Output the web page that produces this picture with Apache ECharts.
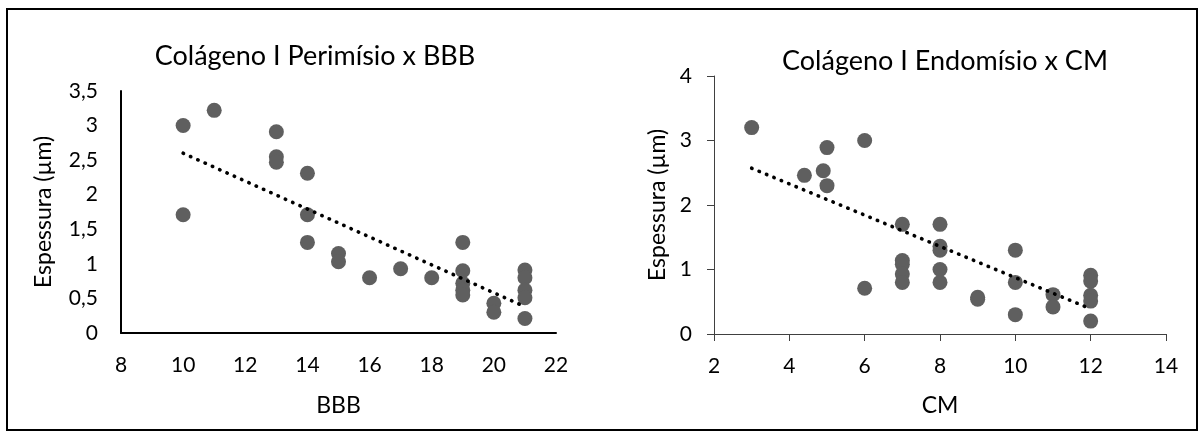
<!DOCTYPE html>
<html>
<head>
<meta charset="utf-8">
<script src="https://cdn.jsdelivr.net/npm/echarts@6/dist/echarts.min.js"></script>
<style>
html,body{margin:0;padding:0;background:#fff;}
#c{width:1204px;height:439px;}
</style>
</head>
<body>
<div id="c"></div>
<script>
// Left chart: Colágeno I Perimísio x BBB
const leftTitle = 'Colágeno I Perimísio x BBB';
const leftXName = 'BBB';
const leftBBB = [10, 11, 13, 13, 13, 14, 10, 14, 14, 15, 15, 16, 17, 18, 19, 19, 19, 19, 19, 20, 20, 21, 21, 21, 21, 21];
const leftThick = [3.00, 3.22, 2.91, 2.55, 2.47, 2.31, 1.71, 1.71, 1.31, 1.15, 1.03, 0.80, 0.93, 0.80, 1.31, 0.90, 0.72, 0.62, 0.55, 0.43, 0.30, 0.91, 0.80, 0.62, 0.51, 0.21];
const leftTrendX = [10, 21];
const leftTrendY = [2.60, 0.38];
const leftXTicks = [8, 10, 12, 14, 16, 18, 20, 22];
const leftYTicks = ['0', '0,5', '1', '1,5', '2', '2,5', '3', '3,5'];

// Right chart: Colágeno I Endomísio x CM
const rightTitle = 'Colágeno I Endomísio x CM';
const rightXName = 'CM';
const rightCM = [3, 5, 6, 4.4, 4.9, 5, 6, 7, 7, 7, 7, 7, 8, 8, 8, 8, 8, 9, 9, 10, 10, 10, 11, 11, 12, 12, 12, 12, 12];
const rightThick = [3.20, 2.89, 3.00, 2.46, 2.53, 2.30, 0.71, 1.70, 1.14, 1.08, 0.93, 0.80, 1.70, 1.36, 1.30, 1.00, 0.80, 0.57, 0.54, 1.30, 0.80, 0.30, 0.61, 0.42, 0.91, 0.82, 0.60, 0.51, 0.20];
const rightTrendX = [3, 12];
const rightTrendY = [2.57, 0.39];
const rightXTicks = [2, 4, 6, 8, 10, 12, 14];
const rightYTicks = [0, 1, 2, 3, 4];

const yName = 'Espessura (µm)';
const FONT = 'Lato';

const pairs = (xs, ys) => xs.map((x, i) => [x, ys[i]]);
const fmt = v => String(v).replace('.', ',');

const chart = echarts.init(document.getElementById('c'), null, {renderer: 'canvas'});

const axisText = {color: '#000', fontFamily: FONT, fontSize: 21};
const nameText = {color: '#000', fontFamily: FONT, fontSize: 23};

chart.setOption({
  animation: false,
  backgroundColor: '#fff',
  title: [
    {text: leftTitle, left: 310, top: 38, textAlign: 'center',
     textStyle: {color: '#000', fontFamily: FONT, fontSize: 27, fontWeight: 'normal'}},
    {text: rightTitle, left: 940, top: 43, textAlign: 'center',
     textStyle: {color: '#000', fontFamily: FONT, fontSize: 27, fontWeight: 'normal'}}
  ],
  graphic: [{
    type: 'rect', shape: {x: 7, y: 9, width: 1190, height: 421},
    style: {fill: 'none', stroke: '#000', lineWidth: 2}, silent: true
  }],
  grid: [
    {left: 121, top: 91, width: 435, height: 242},
    {left: 714, top: 76, width: 452, height: 258}
  ],
  xAxis: [
    {gridIndex: 0, type: 'value', min: leftXTicks[0], max: leftXTicks[leftXTicks.length - 1], interval: 2,
     name: leftXName, nameLocation: 'middle', nameGap: 61, nameTextStyle: nameText,
     axisLine: {show: true, lineStyle: {color: '#000', width: 2}},
     axisTick: {show: false}, splitLine: {show: false},
     axisLabel: Object.assign({margin: 22, formatter: fmt}, axisText)},
    {gridIndex: 1, type: 'value', min: rightXTicks[0], max: rightXTicks[rightXTicks.length - 1], interval: 2,
     name: rightXName, nameLocation: 'middle', nameGap: 60, nameTextStyle: nameText,
     axisLine: {show: true, lineStyle: {color: '#404040', width: 1}},
     axisTick: {show: true, inside: false, length: 7, lineStyle: {color: '#404040', width: 1}},
     splitLine: {show: false},
     axisLabel: Object.assign({margin: 22, formatter: fmt}, axisText)}
  ],
  yAxis: [
    {gridIndex: 0, type: 'value', min: 0, max: 3.5, interval: 0.5,
     name: yName, nameLocation: 'middle', nameGap: 66, nameRotate: 90, nameTextStyle: nameText,
     axisLine: {show: true, lineStyle: {color: '#000', width: 2}},
     axisTick: {show: false}, splitLine: {show: false},
     axisLabel: Object.assign({margin: 23, formatter: (v) => leftYTicks[Math.round(v / 0.5)]}, axisText)},
    {gridIndex: 1, type: 'value', min: rightYTicks[0], max: rightYTicks[rightYTicks.length - 1], interval: 1,
     name: yName, nameLocation: 'middle', nameGap: 45, nameRotate: 90, nameTextStyle: nameText,
     axisLine: {show: true, lineStyle: {color: '#404040', width: 1}},
     axisTick: {show: true, inside: false, length: 7, lineStyle: {color: '#404040', width: 1}},
     splitLine: {show: false},
     axisLabel: Object.assign({margin: 22, formatter: fmt}, axisText)}
  ],
  series: [
    {type: 'scatter', xAxisIndex: 0, yAxisIndex: 0, data: pairs(leftBBB, leftThick),
     symbol: 'circle', symbolSize: 15, itemStyle: {color: '#5f5f5f', opacity: 1}, z: 2},
    {type: 'line', xAxisIndex: 0, yAxisIndex: 0, data: pairs(leftTrendX, leftTrendY),
     symbol: 'none', lineStyle: {color: '#000', width: 3.6, type: [0.4, 7.6], cap: 'round'}, z: 3},
    {type: 'scatter', xAxisIndex: 1, yAxisIndex: 1, data: pairs(rightCM, rightThick),
     symbol: 'circle', symbolSize: 15, itemStyle: {color: '#5f5f5f', opacity: 1}, z: 2},
    {type: 'line', xAxisIndex: 1, yAxisIndex: 1, data: pairs(rightTrendX, rightTrendY),
     symbol: 'none', lineStyle: {color: '#000', width: 3.6, type: [0.4, 7.6], cap: 'round'}, z: 3}
  ]
});
</script>
</body>
</html>
